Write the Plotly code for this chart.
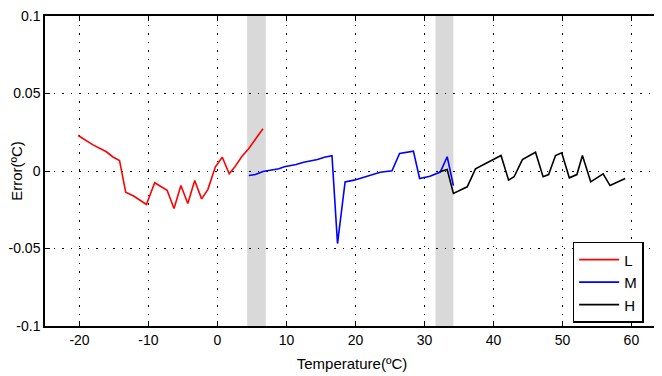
import plotly.graph_objects as go

# Low range (L)
l_temp = [-20.2, -18.1, -16.1, -15.2, -14.2, -13.3, -12.1, -10.3, -9.1, -7.3, -6.3, -5.3, -4.3,
          -3.3, -2.3, -1.4, -0.3, 0.7, 1.7, 2.5, 3.5, 4.55, 5.65, 6.6]
l_err = [0.0229, 0.017, 0.0124, 0.0092, 0.0068, -0.0137, -0.0163, -0.0216, -0.0076, -0.0124,
         -0.0242, -0.0094, -0.021, -0.0061, -0.018, -0.012, 0.0027, 0.0089, -0.0018, 0.0025,
         0.0092, 0.0145, 0.0214, 0.0272]

# Mid range (M)
m_temp = [4.55, 5.5, 6.6, 8.0, 8.9, 9.7, 11.4, 12.5, 14.5, 15.5, 16.6, 17.4, 18.5, 19.8, 21.5,
          23.6, 25.3, 26.4, 28.4, 29.3, 30.8, 32.3, 33.3, 34.2]
m_err = [-0.0029, -0.0023, -0.0003, 0.0006, 0.0015, 0.0027, 0.0042, 0.0057, 0.0074, 0.0089,
         0.0098, -0.0468, -0.007, -0.0059, -0.0034, -0.0008, 0.0001, 0.0113, 0.0128, -0.0048,
         -0.0034, -0.0007, 0.0092, -0.0094]

# High range (H)
h_temp = [32.2, 33.3, 34.2, 36.2, 37.4, 39.2, 41.1, 42.2, 43.0, 44.2, 46.1, 47.2, 48.0, 49.0,
          49.9, 51.0, 52.1, 52.9, 54.1, 55.9, 56.9, 59.1]
h_err = [-0.0005, 0.001, -0.0145, -0.0102, 0.0014, 0.0057, 0.01, -0.0059, -0.0037, 0.0074,
         0.0121, -0.0037, -0.0023, 0.01, 0.0117, -0.0044, -0.0023, 0.01, -0.007, -0.0018,
         -0.0094, -0.0048]

# Overlap (transition) bands
bands = [(4.3, 7.0), (31.6, 34.2)]

x_ticks = [-20, -10, 0, 10, 20, 30, 40, 50, 60]
x_tick_text = ["-20", "-10", "0", "10", "20", "30", "40", "50", "60"]
y_ticks = [-0.1, -0.05, 0, 0.05, 0.1]
y_tick_text = ["-0.1", "-0.05", "0", "0.05", "0.1"]

fig = go.Figure()
fig.add_trace(go.Scatter(x=l_temp, y=l_err, mode="lines", name="L",
                         line=dict(color="#ff0000", width=1.6)))
fig.add_trace(go.Scatter(x=m_temp, y=m_err, mode="lines", name="M",
                         line=dict(color="#0000ff", width=1.6)))
fig.add_trace(go.Scatter(x=h_temp, y=h_err, mode="lines", name="H",
                         line=dict(color="#000000", width=1.6)))

for x0, x1 in bands:
    fig.add_shape(type="rect", xref="x", yref="paper", x0=x0, x1=x1, y0=0, y1=1,
                  fillcolor="#d9d9d9", line=dict(width=0), layer="below")

axis_common = dict(showline=True, linecolor="black", linewidth=1.5, mirror="ticks",
                   ticks="inside", ticklen=5, tickcolor="black", tickwidth=1,
                   showgrid=True, gridcolor="black", gridwidth=1, griddash="1.5px,7px",
                   zeroline=False, automargin=False, ticklabeloverflow="allow",
                   tickfont=dict(size=14, color="black"))

fig.update_layout(
    width=654, height=368,
    margin=dict(l=37, r=3, t=8, b=50),
    paper_bgcolor="white", plot_bgcolor="white",
    font=dict(family="Liberation Sans, Arial, sans-serif", color="black"),
    xaxis=dict(range=[-25, 64], tickvals=x_ticks, ticktext=x_tick_text,
               title=dict(text="Temperature(ºC)", font=dict(size=15), standoff=12),
               **axis_common),
    yaxis=dict(range=[-0.1, 0.1], tickvals=y_ticks, ticktext=y_tick_text,
               title=dict(text="Error(ºC)", font=dict(size=15), standoff=2),
               **axis_common),
    legend=dict(x=0.975, y=0.01, xanchor="right", yanchor="bottom",
                bgcolor="white", bordercolor="black", borderwidth=1.5,
                font=dict(size=15, color="black"), tracegroupgap=0,
                itemwidth=40),
    showlegend=True,
)

fig.write_html("out.html")
